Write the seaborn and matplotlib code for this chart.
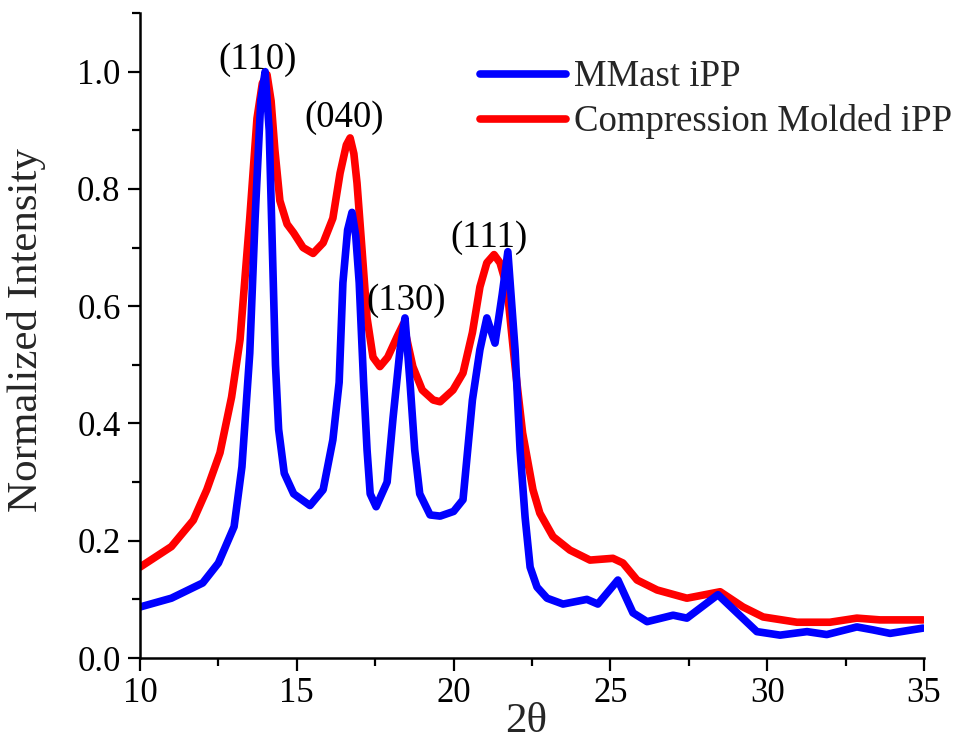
import numpy as np
import pandas as pd
import matplotlib
matplotlib.use("Agg")
import matplotlib.pyplot as plt
import seaborn as sns
from matplotlib.ticker import MultipleLocator

# ---- data ----
mmast_x = [10.0, 11.0, 12.0, 12.5, 13.0, 13.25, 13.5, 13.67, 13.85, 13.99, 14.12, 14.22, 14.32, 14.42, 14.6,
           14.9, 15.42, 15.84, 16.15, 16.35, 16.47, 16.62, 16.76, 16.88, 16.99, 17.13, 17.24, 17.34, 17.53,
           17.88, 18.07, 18.29, 18.45, 18.61, 18.76, 18.92, 19.25, 19.57, 20.0, 20.3, 20.6, 20.84, 21.06,
           21.32, 21.55, 21.73, 21.96, 22.12, 22.28, 22.44, 22.66, 22.98, 23.49, 24.25, 24.6, 25.24, 25.72,
           26.17, 27.0, 27.44, 28.43, 29.04, 29.67, 30.41, 31.27, 31.9, 32.86, 33.37, 33.92, 34.97]
mmast_y = [0.087, 0.102, 0.128, 0.162, 0.224, 0.326, 0.52, 0.75, 0.95, 1.0, 0.90, 0.70, 0.50, 0.39, 0.315,
           0.28, 0.26, 0.287, 0.372, 0.47, 0.64, 0.73, 0.76, 0.72, 0.64, 0.47, 0.355, 0.28, 0.258,
           0.30, 0.41, 0.525, 0.58, 0.47, 0.355, 0.28, 0.244, 0.242, 0.25, 0.27, 0.44, 0.526, 0.58,
           0.537, 0.62, 0.693, 0.526, 0.355, 0.24, 0.155, 0.121, 0.102, 0.092, 0.10, 0.092, 0.133, 0.077,
           0.062, 0.073, 0.068, 0.108, 0.077, 0.045, 0.039, 0.045, 0.040, 0.053, 0.048, 0.042, 0.051]

molded_x = [10.0, 11.0, 11.7, 12.13, 12.55, 12.92, 13.19, 13.5, 13.73, 13.9, 14.05, 14.18, 14.3, 14.46,
            14.69, 14.9, 15.2, 15.52, 15.84, 16.15, 16.38, 16.58, 16.7, 16.82, 16.92, 17.08, 17.24, 17.43,
            17.65, 17.9, 18.2, 18.4, 18.7, 19.0, 19.35, 19.57, 19.98, 20.3, 20.6, 20.84, 21.06, 21.29,
            21.48, 21.7, 21.96, 22.2, 22.53, 22.75, 23.17, 23.71, 24.35, 25.08, 25.4, 25.85, 26.49, 27.44,
            28.5, 29.23, 29.87, 30.95, 32.0, 32.86, 33.6, 34.97]
molded_y = [0.155, 0.19, 0.235, 0.287, 0.35, 0.445, 0.543, 0.75, 0.92, 0.98, 0.995, 0.95, 0.867, 0.78,
            0.74, 0.725, 0.70, 0.69, 0.708, 0.75, 0.827, 0.875, 0.887, 0.86, 0.81, 0.696, 0.58, 0.513,
            0.497, 0.513, 0.548, 0.57, 0.497, 0.457, 0.44, 0.437, 0.457, 0.486, 0.555, 0.633, 0.674, 0.688,
            0.674, 0.633, 0.497, 0.384, 0.287, 0.247, 0.207, 0.184, 0.167, 0.17, 0.162, 0.133, 0.116, 0.102,
            0.113, 0.087, 0.07, 0.061, 0.061, 0.068, 0.065, 0.065]

series_names = ["MMast iPP", "Compression Molded iPP"]
peak_labels = ["(110)", "(040)", "(130)", "(111)"]
peak_label_x = [13.75, 16.5, 18.5, 21.13]
peak_label_y = [1.02, 0.921, 0.61, 0.717]

x_ticks = [10, 15, 20, 25, 30, 35]
y_ticks = [0.0, 0.2, 0.4, 0.6, 0.8, 1.0]

# ---- build long-form data ----
df_mm = pd.DataFrame({"x": mmast_x, "y": mmast_y, "sample": series_names[0]})
df_cm = pd.DataFrame({"x": molded_x, "y": molded_y, "sample": series_names[1]})

sns.set_style("ticks")
plt.rcParams["font.family"] = ["Liberation Serif", "DejaVu Serif"]

fig = plt.figure(figsize=(9.57, 7.40), dpi=100)
ax = fig.add_axes([0.1463, 0.1108, 0.8192, 0.8716])

sns.lineplot(data=df_cm, x="x", y="y", color="#ff0000", lw=5.5, sort=False, estimator=None,
             ax=ax, label=series_names[1], solid_capstyle="round", solid_joinstyle="round")
sns.lineplot(data=df_mm, x="x", y="y", color="#0000ff", lw=5.5, sort=False, estimator=None,
             ax=ax, label=series_names[0], solid_capstyle="round", solid_joinstyle="round")

ax.set_xlim(10, 35)
ax.set_ylim(0, 1.1)
ax.set_xticks(x_ticks)
ax.set_xticklabels([str(t) for t in x_ticks])
ax.set_yticks(y_ticks)
ax.set_yticklabels([f"{t:.1f}" for t in y_ticks])
ax.xaxis.set_minor_locator(MultipleLocator(2.5))
ax.yaxis.set_minor_locator(MultipleLocator(0.1))

for side in ["top", "right"]:
    ax.spines[side].set_visible(False)
for side in ["left", "bottom"]:
    ax.spines[side].set_linewidth(1.8)
    ax.spines[side].set_color("black")

ax.tick_params(axis="both", which="major", direction="out", length=9, width=1.6,
               labelsize=25, pad=5, colors="black")
ax.tick_params(axis="both", which="minor", direction="out", length=5.5, width=1.6, colors="black")

ax.set_xlabel("2θ", fontsize=31)
ax.xaxis.set_label_coords(0.492, -0.069)
ax.set_ylabel("Normalized Intensity", fontsize=31)
ax.yaxis.set_label_coords(-0.120, 0.5085)

for lab, lx, ly in zip(peak_labels, peak_label_x, peak_label_y):
    ax.text(lx, ly, lab, fontsize=26.5, ha="center", va="center", color="black")

handles, labels = ax.get_legend_handles_labels()
order = [labels.index(n) for n in series_names]
leg = ax.legend([handles[i] for i in order], [labels[i] for i in order],
                loc="upper left", bbox_to_anchor=(0.4147, 0.950), frameon=False,
                fontsize=26.5, handlelength=2.35, handletextpad=0.2, labelspacing=0.27,
                borderaxespad=0.0)

fig.savefig("out.png", dpi=100)
